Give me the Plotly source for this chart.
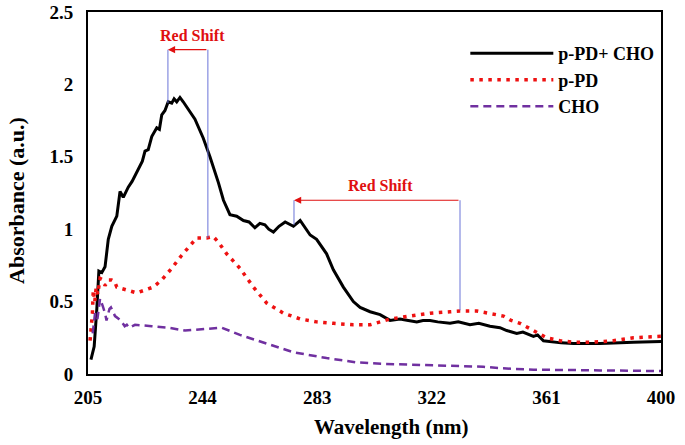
import plotly.graph_objects as go

# p-PD + CHO (black solid)
wl_mix = [206.0, 207.1, 208.0, 208.7, 209.7, 210.8, 211.9, 213.1, 214.8, 215.9, 217.0, 218.7, 220.0,
          222.1, 223.5, 224.4, 225.5, 226.7, 228.4, 229.3, 230.1, 231.2, 232.3, 233.5, 234.3, 235.2,
          236.3, 237.4, 239.1, 241.4, 244.2, 246.5, 249.4, 251.1, 253.3, 255.6, 257.9, 259.8, 261.8,
          263.5, 265.2, 266.5, 268.1, 270.0, 272.1, 274.9, 277.2, 280.6, 282.8, 286.2, 288.5, 291.9,
          295.3, 297.6, 301.0, 304.4, 307.8, 311.2, 314.0, 316.9, 319.0, 321.4, 324.0, 328.2, 331.0,
          335.0, 338.0, 341.8, 345.2, 347.5, 350.9, 353.0, 356.6, 358.0, 360.0, 363.4, 366.0, 370.2,
          379.3, 390.6, 400.0]
abs_mix = [0.10, 0.19, 0.45, 0.71, 0.70, 0.74, 0.93, 1.02, 1.09, 1.26, 1.22, 1.29, 1.33,
           1.42, 1.47, 1.54, 1.55, 1.64, 1.70, 1.69, 1.79, 1.82, 1.88, 1.87, 1.90, 1.88,
           1.91, 1.88, 1.83, 1.76, 1.63, 1.50, 1.32, 1.20, 1.10, 1.09, 1.06, 1.05, 1.01,
           1.04, 1.03, 1.00, 0.98, 1.02, 1.05, 1.02, 1.06, 0.96, 0.93, 0.83, 0.72, 0.60,
           0.50, 0.46, 0.43, 0.41, 0.37, 0.38, 0.37, 0.36, 0.37, 0.37, 0.36, 0.35, 0.36,
           0.34, 0.35, 0.33, 0.32, 0.30, 0.28, 0.29, 0.26, 0.27, 0.23, 0.22, 0.215, 0.21,
           0.21, 0.22, 0.225]

# p-PD (red dotted)
wl_ppd = [205.7, 206.2, 206.5, 206.8, 207.3, 207.8, 208.3, 209.1, 210.0, 210.8, 211.9, 213.0, 214.0,
          214.8, 216.5, 218.7, 221.6, 224.4, 227.2, 230.1, 233.5, 236.9, 239.7, 242.0, 245.4, 247.6,
          249.4, 252.2, 256.7, 261.3, 265.8, 271.5, 277.2, 282.8, 288.5, 295.3, 301.0, 307.8, 314.6,
          321.4, 328.2, 331.6, 337.3, 341.8, 346.4, 349.0, 352.0, 356.6, 361.1, 365.7, 370.2, 377.0,
          383.8, 390.6, 400.0]
abs_ppd = [0.23, 0.35, 0.42, 0.58, 0.50, 0.60, 0.55, 0.66, 0.65, 0.61, 0.65, 0.65, 0.64,
           0.60, 0.59, 0.58, 0.56, 0.58, 0.60, 0.65, 0.73, 0.82, 0.89, 0.94, 0.94, 0.95,
           0.91, 0.83, 0.73, 0.60, 0.49, 0.42, 0.38, 0.36, 0.35, 0.34, 0.34, 0.38, 0.40,
           0.42, 0.43, 0.435, 0.435, 0.42, 0.40, 0.37, 0.35, 0.30, 0.25, 0.23, 0.22, 0.22,
           0.23, 0.25, 0.26]

# CHO (purple dashed)
wl_cho = [206.6, 207.4, 208.2, 209.1, 210.0, 210.8, 211.3, 212.3, 212.8, 214.2, 215.5, 216.5, 217.5,
          218.2, 219.0, 221.0, 226.7, 232.3, 238.0, 243.7, 250.5, 256.7, 265.8, 274.9, 286.2, 296.5,
          305.5, 322.5, 339.5, 345.2, 356.6, 379.3, 400.0]
abs_cho = [0.28, 0.42, 0.38, 0.52, 0.47, 0.42, 0.37, 0.45, 0.46, 0.40, 0.38, 0.36, 0.33,
           0.34, 0.32, 0.34, 0.33, 0.32, 0.30, 0.31, 0.32, 0.27, 0.21, 0.15, 0.11, 0.08,
           0.07, 0.06, 0.05, 0.04, 0.03, 0.025, 0.02]

x_ticks = [205, 244, 283, 322, 361, 400]
y_ticks = [0, 0.5, 1, 1.5, 2, 2.5]
y_tick_text = ["0", "0.5", "1", "1.5", "2", "2.5"]

x_title = "Wavelength (nm)"
y_title = "Absorbance (a.u.)"

# red shift markers: (start wl, start abs, end wl, end abs, arrow level)
shift1 = dict(x0=232.2, y0=1.87, x1=245.8, y1=0.94, level=2.24, label_x=240.4, label_y=2.34)
shift2 = dict(x0=275.1, y0=1.03, x1=331.6, y1=0.44, level=1.20, label_x=304.4, label_y=1.30)

FONT = "Liberation Serif"

fig = go.Figure()
fig.add_trace(go.Scatter(x=wl_mix, y=abs_mix, mode="lines", name="p-PD+ CHO",
                         line=dict(color="black", width=3)))
fig.add_trace(go.Scatter(x=wl_ppd, y=abs_ppd, mode="lines", name="p-PD",
                         line=dict(color="#ee1111", width=3.5, dash="3.5px,5.5px")))
fig.add_trace(go.Scatter(x=wl_cho, y=abs_cho, mode="lines", name="CHO",
                         line=dict(color="#7030a0", width=2.5, dash="8px,5px")))

for s in (shift1, shift2):
    fig.add_shape(type="line", x0=s["x0"], x1=s["x0"], y0=s["y0"], y1=s["level"],
                  line=dict(color="#6a74d8", width=1))
    fig.add_shape(type="line", x0=s["x1"], x1=s["x1"], y0=s["y1"], y1=s["level"],
                  line=dict(color="#6a74d8", width=1))
    fig.add_annotation(x=s["x0"], y=s["level"], ax=s["x1"], ay=s["level"],
                       xref="x", yref="y", axref="x", ayref="y", text="",
                       showarrow=True, arrowhead=2, arrowsize=1.2, arrowwidth=1.2,
                       arrowcolor="#e01010", standoff=0)
    fig.add_annotation(x=s["label_x"], y=s["label_y"], xref="x", yref="y",
                       text="Red Shift", showarrow=False,
                       font=dict(family=FONT, size=16, color="#e01010", weight="bold"))

# axis titles (placed as in the reference, slightly off-centre)
fig.add_annotation(x=0.5288, y=-0.1464, xref="paper", yref="paper", text=x_title,
                   showarrow=False, xanchor="center", yanchor="middle",
                   font=dict(family=FONT, size=21, color="black", weight="bold"))
fig.add_annotation(x=-0.1239, y=0.478, xref="paper", yref="paper", text=y_title,
                   showarrow=False, xanchor="center", yanchor="middle", textangle=-90,
                   font=dict(family=FONT, size=22, color="black", weight="bold"))

fig.update_layout(
    width=685, height=445,
    margin=dict(l=88, r=24, t=12, b=71, autoexpand=False),
    paper_bgcolor="white", plot_bgcolor="white",
    font=dict(family=FONT, size=19, color="black", weight="bold"),
    legend=dict(x=0.6585, y=0.936, xanchor="left", yanchor="top",
                bgcolor="rgba(0,0,0,0)", itemwidth=83,
                font=dict(family=FONT, size=18, color="black", weight="bold")),
    xaxis=dict(range=[205, 400], tickvals=x_ticks, showgrid=False, zeroline=False,
               showline=True, linecolor="black", linewidth=2, mirror=True,
               ticks="", ticklabelstandoff=5, automargin=False,
               tickfont=dict(family=FONT, size=19, weight="bold")),
    yaxis=dict(range=[0, 2.5], tickvals=y_ticks, ticktext=y_tick_text, showgrid=False,
               zeroline=False, showline=True, linecolor="black", linewidth=2, mirror=True,
               ticks="", ticklabelstandoff=9, automargin=False,
               tickfont=dict(family=FONT, size=19, weight="bold")),
)

fig.write_html("out.html", config={"displayModeBar": False},
               post_script="document.body.style.margin='0';")
